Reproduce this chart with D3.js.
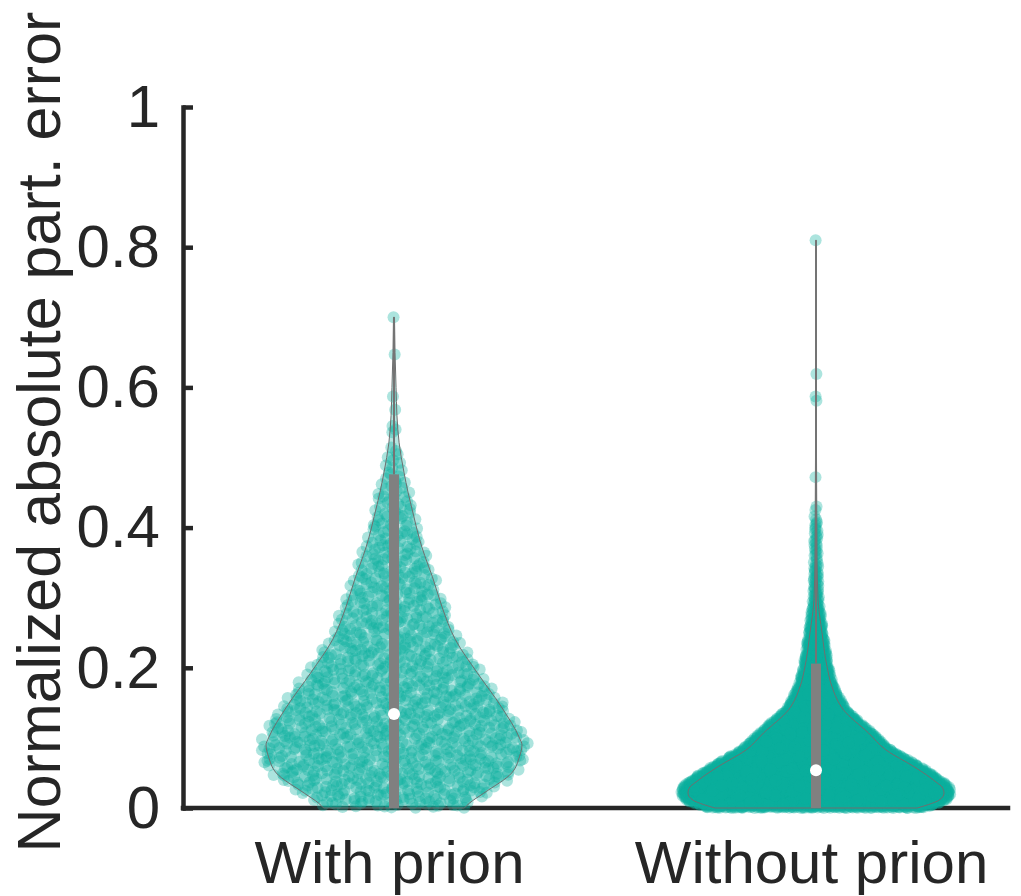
<!DOCTYPE html>
<html>
<head>
<meta charset="utf-8">
<script src="https://cdn.jsdelivr.net/npm/d3@7"></script>
<style>
  body { margin: 0; background: #fff; }
  svg { display: block; }
  text { font-family: "Liberation Sans", Arial, Helvetica, sans-serif; fill: #262626; }
</style>
</head>
<body>
<svg id="chart" width="1021" height="896"></svg>
<script>
// ---- data -----------------------------------------------------------
const categories = ["With prion", "Without prion"];
const yTicks = [0, 0.2, 0.4, 0.6, 0.8, 1];
const yTitle = "Normalized absolute part. error";

// kernel density profile (relative) of each group, sampled at error levels
const withPrionLevels  = [0, 0.007, 0.021, 0.05, 0.073, 0.09, 0.10, 0.144, 0.193, 0.24, 0.287, 0.33, 0.36, 0.383, 0.416, 0.45, 0.479, 0.521, 0.56, 0.60, 0.65, 0.70];
const withPrionDensity = [0.55, 0.59, 0.70, 0.92, 0.98, 1.0, 0.98, 0.84, 0.65, 0.48, 0.375, 0.30, 0.24, 0.20, 0.155, 0.11, 0.078, 0.04, 0.023, 0.016, 0.008, 0.004];

const withoutPrionLevels  = [0, 0.005, 0.011, 0.021, 0.03, 0.036, 0.047, 0.059, 0.083, 0.107, 0.14, 0.173, 0.201, 0.25, 0.297, 0.354, 0.42, 0.5, 0.6, 0.7, 0.81];
const withoutPrionDensity = [0.79, 0.88, 0.96, 1.0, 0.985, 0.945, 0.865, 0.765, 0.545, 0.41, 0.215, 0.125, 0.087, 0.047, 0.016, 0.008, 0.006, 0.004, 0.003, 0.002, 0.002];

// isolated high-error observations above the bulk of each group
const withPrionTail    = [0.70, 0.647, 0.587, 0.568, 0.545, 0.540, 0.536];
const withoutPrionTail = [0.81, 0.619, 0.587, 0.581, 0.472, 0.43, 0.425];

// summary statistics: median, top of the thick bar, top of the whisker
const medians     = [0.134, 0.054];
const barTops     = [0.476, 0.206];
const whiskerTops = [0.70, 0.81];

// observations per group drawn in the body of each violin, and its upper limit
const bodyCounts = [1150, 6000];
const bodyTops   = [0.52, 0.42];

const groups = [
  { name: categories[0], levels: withPrionLevels, density: withPrionDensity, tail: withPrionTail,
    median: medians[0], barTop: barTops[0], whiskerTop: whiskerTops[0], n: bodyCounts[0], bodyTop: bodyTops[0] },
  { name: categories[1], levels: withoutPrionLevels, density: withoutPrionDensity, tail: withoutPrionTail,
    median: medians[1], barTop: barTops[1], whiskerTop: whiskerTops[1], n: bodyCounts[1], bodyTop: bodyTops[1] }
];

// ---- layout ---------------------------------------------------------
const teal = "#0bb19f";
const svg = d3.select("#chart");

const x = d3.scalePoint().domain(categories).range([183, 1027]).padding(0.5);
const y = d3.scaleLinear().domain([0, 1]).range([808, 107]);
const halfWidth = d3.scaleLinear().domain([0, 1]).range([0, 128]);
const axisRight = 1008;

// ---- axes -----------------------------------------------------------
const yAxis = svg.append("g")
  .attr("transform", `translate(${x.range()[0]},0)`)
  .call(d3.axisLeft(y).tickValues(yTicks)
    .tickFormat(d => (d === 0 || d === 1) ? String(d) : d3.format(".1f")(d))
    .tickSize(-10).tickSizeOuter(0).tickPadding(23));
yAxis.select(".domain").attr("stroke", "#262626").attr("stroke-width", 4.5).attr("stroke-linecap", "square");
yAxis.selectAll(".tick line").attr("stroke", "#262626").attr("stroke-width", 4.5);
yAxis.selectAll(".tick text").attr("font-size", 60).attr("fill", "#262626")
  .attr("font-family", "\"Liberation Sans\", Arial, Helvetica, sans-serif");

svg.append("line")
  .attr("x1", x.range()[0]).attr("x2", axisRight)
  .attr("y1", y(0)).attr("y2", y(0))
  .attr("stroke", "#262626").attr("stroke-width", 4.5).attr("stroke-linecap", "square");

const xAxis = svg.append("g")
  .attr("transform", `translate(0,${y(0)})`)
  .call(d3.axisBottom(x).tickSize(0).tickPadding(0));
xAxis.select(".domain").remove();
xAxis.selectAll(".tick text").attr("font-size", 60).attr("fill", "#262626")
  .attr("font-family", "\"Liberation Sans\", Arial, Helvetica, sans-serif")
  .attr("dy", null).attr("y", 75).attr("x", -5);

svg.append("text")
  .attr("transform", "translate(60,432) rotate(-90)")
  .attr("text-anchor", "middle")
  .attr("font-size", 61)
  .text(yTitle);

// ---- violins --------------------------------------------------------
// radical inverse (Halton sequence) used to spread observations evenly
function halton(i, base) {
  let f = 1, r = 0;
  while (i > 0) { f /= base; r += f * (i % base); i = Math.floor(i / base); }
  return r;
}

groups.forEach(g => {
  const cx = x(g.name);
  const dens = d3.scaleLinear().domain(g.levels).range(g.density).clamp(true);

  const profile = g.levels.map((v, i) => ({ v, d: g.density[i] }));
  const area = d3.area()
    .curve(d3.curveMonotoneY)
    .y(p => y(p.v))
    .x0(p => cx - halfWidth(p.d))
    .x1(p => cx + halfWidth(p.d));

  const layer = svg.append("g");

  // shaded body of the violin
  layer.append("path").datum(profile)
    .attr("d", area)
    .attr("fill", teal).attr("fill-opacity", 0.3).attr("stroke", "none");

  // cumulative distribution of the density up to the body limit
  const steps = 800;
  const grid = d3.range(steps + 1).map(k => g.bodyTop * k / steps);
  const cdf = [0];
  for (let k = 1; k < grid.length; k++) {
    cdf.push(cdf[k - 1] + (dens(grid[k - 1]) + dens(grid[k])) / 2);
  }
  const total = cdf[cdf.length - 1];
  const quantile = d3.scaleLinear().domain(cdf.map(c => c / total)).range(grid);

  // body observations, spread across the violin width at their level
  const points = d3.range(1, g.n + 1).map(i => {
    const v = quantile(halton(i, 2));
    const w = halton(i, 3) * 2 - 1;
    return { v, w };
  });
  g.tail.forEach((v, i) => points.push({ v, w: (i % 2 ? 1 : -1) * 0.3 }));

  layer.append("g").selectAll("circle").data(points).join("circle")
    .attr("cx", p => cx + p.w * (halfWidth(dens(p.v)) * 1.05 + 1))
    .attr("cy", p => y(p.v))
    .attr("r", 6)
    .attr("fill", teal).attr("fill-opacity", 0.34);

  // violin outline
  layer.append("path").datum(profile)
    .attr("d", area)
    .attr("fill", "none").attr("stroke", "#6f6f6f").attr("stroke-width", 1);

  // whisker, thick bar and median
  layer.append("line")
    .attr("x1", cx).attr("x2", cx)
    .attr("y1", y(g.barTop)).attr("y2", y(g.whiskerTop))
    .attr("stroke", "#747474").attr("stroke-width", 2);

  layer.append("rect")
    .attr("x", cx - 5).attr("width", 10)
    .attr("y", y(g.barTop)).attr("height", y(0) - y(g.barTop))
    .attr("fill", "#808080");

  layer.append("circle")
    .attr("cx", cx).attr("cy", y(g.median)).attr("r", 6)
    .attr("fill", "#fff");
});
</script>
</body>
</html>
